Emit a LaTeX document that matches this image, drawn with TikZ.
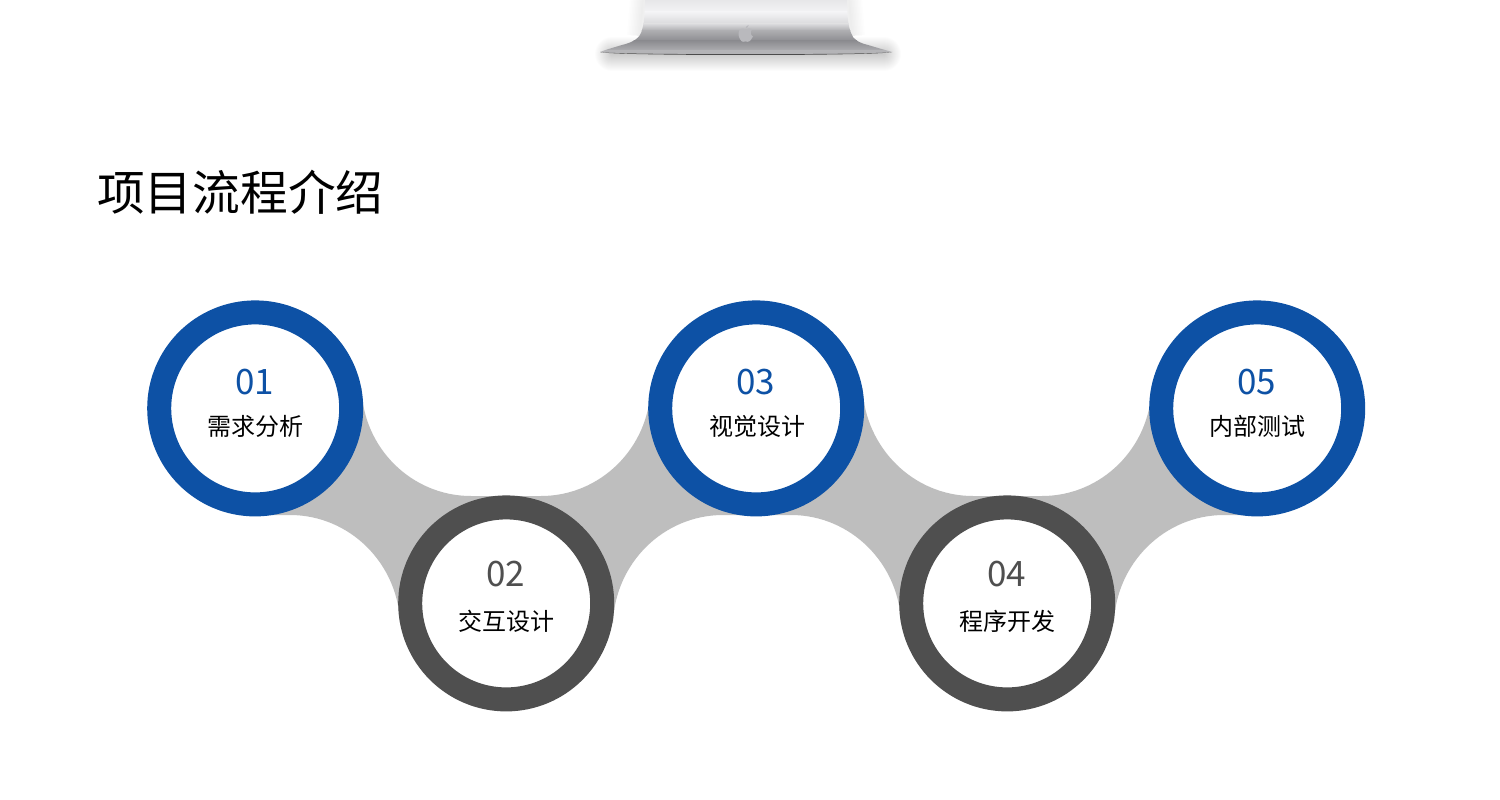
\documentclass[tikz,border=0pt]{standalone}
\usepackage{fontspec}
\newfontfamily\cjk{Noto Sans CJK SC}
\definecolor{blueC}{HTML}{0D51A5}
\definecolor{darkC}{HTML}{4F4F4F}
\definecolor{linkC}{HTML}{BEBEBE}
\definecolor{st1}{HTML}{E6E6E8}
\definecolor{st2}{HTML}{F3F3F5}
\definecolor{st3}{HTML}{DADADC}
\definecolor{st4}{HTML}{ACACAF}
\definecolor{st5}{HTML}{8D8D91}
\definecolor{st6}{HTML}{ABABAE}
\definecolor{st7}{HTML}{B4B4B7}
\definecolor{logoC}{HTML}{B9B9BD}
\tikzset{
  ringbase/.style={circle,draw,fill=white,line width=24pt,minimum size=192pt,inner sep=0pt,outer sep=0pt},
  bluering/.style={ringbase,draw=blueC},
  darkring/.style={ringbase,draw=darkC},
  numtext/.style={font=\cjk\fontsize{35}{35}\selectfont,inner sep=0pt},
  labeltext/.style={font=\cjk\fontsize{24}{24}\selectfont,text=black,inner sep=0pt},
  titletext/.style={font=\cjk\fontsize{47.7}{47.7}\selectfont,text=black,inner sep=0pt,anchor=west},
}
\begin{document}
\begin{tikzpicture}[x=1pt,y=-1pt]
\useasboundingbox[fill=white] (0,0) rectangle (1500,800);
% stand shadow
\foreach \w in {2,4,...,34}{
  \draw[black,opacity=0.013,line width=\w pt,line cap=round] (612,54) -- (884,54);
}
\foreach \w in {2,5,...,26}{
  \draw[black,opacity=0.009,line width=\w pt] (643,-2) -- (640,36);
  \draw[black,opacity=0.009,line width=\w pt] (849,-2) -- (852,36);
}
% stand
\begin{scope}
\clip (645,-1) .. controls (645,15) and (644,25) .. (641,33)
  .. controls (638,40) and (630,43) .. (622,45)
  .. controls (612,48) and (605,50) .. (600,52)
  .. controls (610,55) and (880,55) .. (892,52)
  .. controls (885,50) and (878,48) .. (868,45)
  .. controls (860,43) and (853,40) .. (851,33)
  .. controls (848,25) and (847,15) .. (847,-1) -- cycle;
\shade[top color=st1,bottom color=st2] (590,-1) rectangle (900,12);
\shade[top color=st2,bottom color=st3] (590,12) rectangle (900,24);
\shade[top color=st3,bottom color=st4] (590,24) rectangle (900,31);
\shade[top color=st4,bottom color=st5] (590,31) rectangle (900,41);
\shade[top color=st5,bottom color=st6] (590,41) rectangle (900,50);
\fill[st7] (590,50) rectangle (900,56);
\end{scope}
\fill[black!70!white] (600,52) .. controls (610,55) and (880,55) .. (892,52)
  .. controls (880,56) and (610,56) .. cycle;
% apple logo
\fill[logoC] (745.5,29.5) .. controls (743,27.5) and (739,28.5) .. (738.5,33)
  .. controls (738.2,37) and (741,42) .. (743,41.8)
  .. controls (744.5,41.6) and (746,41) .. (747.5,41.8)
  .. controls (750,42) and (752,38.5) .. (753,36.5)
  .. controls (750,35) and (750,30.5) .. (752.5,29.5)
  .. controls (750.5,27.8) and (748,28) .. cycle;
\fill[logoC] (745.5,28.5) .. controls (745.5,27) and (747,25.5) .. (748.5,25)
  .. controls (748.6,26.5) and (747.5,28) .. cycle;
% title
\node[titletext] (title) at (97,192.5) {项目流程介绍};
% gray link band
\path[fill=linkC] (255,408) -- (361.5,388)
  .. controls (363,447.6) and (411.4,496) .. (471,496) -- (541,496)
  .. controls (600.6,496) and (649,447.6) .. (650.5,388)
  -- (862.5,388)
  .. controls (865,447.6) and (913.4,496) .. (973,496) -- (1042,496)
  .. controls (1101.6,496) and (1150,447.6) .. (1151.5,388)
  -- (1257,408) -- (1257,515) -- (1224,515)
  .. controls (1164.4,515) and (1116,563.4) .. (1114,623)
  -- (1007,604) -- (901,623)
  .. controls (899,563.4) and (850.6,515) .. (791,515) -- (723,515)
  .. controls (663.4,515) and (615,563.4) .. (613,623)
  -- (506,604) -- (400,623)
  .. controls (398,563.4) and (349.6,515) .. (290,515) -- (255,515) -- cycle;
% rings
\node[bluering] (c1) at (255.2,408.4) {};
\node[darkring] (c2) at (506.2,603.4) {};
\node[bluering] (c3) at (756.2,408.4) {};
\node[darkring] (c4) at (1007.2,603.4) {};
\node[bluering] (c5) at (1257.2,408.4) {};
% texts
\node[numtext,text=blueC] (n1) at (254.8,381.6) {01};
\node[labeltext] (l1) at (255,426.5) {需求分析};
\node[numtext,text=darkC] (n2) at (505.8,573.6) {02};
\node[labeltext] (l2) at (506,621.5) {交互设计};
\node[numtext,text=blueC] (n3) at (755.8,381.6) {03};
\node[labeltext] (l3) at (757,426.5) {视觉设计};
\node[numtext,text=darkC] (n4) at (1006.8,573.6) {04};
\node[labeltext] (l4) at (1007.5,621.5) {程序开发};
\node[numtext,text=blueC] (n5) at (1256.8,381.6) {05};
\node[labeltext] (l5) at (1257.5,426.5) {内部测试};
\end{tikzpicture}
\end{document}
